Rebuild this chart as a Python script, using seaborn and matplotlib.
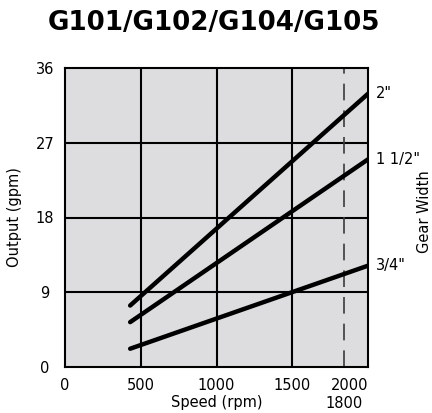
import numpy as np
import pandas as pd
import matplotlib
matplotlib.use('Agg')
import matplotlib.pyplot as plt
import seaborn as sns

# values
speed = [430, 2000]
out_2in = [7.4, 32.9]
out_1_5in = [5.4, 25.0]
out_3_4in = [2.2, 12.2]
gear_widths = ['2"', '1 1/2"', '3/4"']
x_ticks = [0, 500, 1000, 1500, 2000]
y_ticks = [0, 9, 18, 27, 36]
motor_speed_label = '1800'
motor_line_x = 1840  # where the dashed line sits in the picture

df = pd.DataFrame({
    'speed': speed * 3,
    'output': out_2in + out_1_5in + out_3_4in,
    'width': [gear_widths[0]] * 2 + [gear_widths[1]] * 2 + [gear_widths[2]] * 2,
})

sns.set_theme(style='white')
plt.rcParams['font.family'] = ['DejaVu Sans']
plt.rcParams['text.color'] = 'black'
plt.rcParams['axes.labelcolor'] = 'black'
plt.rcParams['xtick.color'] = 'black'
plt.rcParams['ytick.color'] = 'black'

fig = plt.figure(figsize=(4.32, 4.13), dpi=100)
ax = fig.add_axes([65 / 432, 1 - 367 / 413, 303 / 432, 299 / 413])
ax.set_facecolor('#dddddf')

sns.lineplot(data=df, x='speed', y='output', units='width', estimator=None,
             color='black', lw=3.2, legend=False, ax=ax)

for v in x_ticks[1:-1]:
    ax.axvline(v, color='black', lw=1.5, zorder=1)
for v in y_ticks[1:-1]:
    ax.axhline(v, color='black', lw=1.5, zorder=1)
ax.axvline(motor_line_x, color='#3a3a3a', lw=1.2, dashes=(10, 6), zorder=1)

ax.set_xlim(0, 2000)
ax.set_ylim(0, 36)
ax.set_xticks(x_ticks)
ax.set_yticks(y_ticks)
ax.set_xticklabels([str(t) for t in x_ticks], fontsize=10.5)
ax.set_yticklabels([str(t) for t in y_ticks], fontsize=10.5, ha='center')
ax.get_xticklabels()[-1].set_horizontalalignment('right')
ax.tick_params(axis='x', length=0, pad=8)
ax.tick_params(axis='y', length=0, pad=14.5)
for s in ax.spines.values():
    s.set_color('black')
    s.set_linewidth(1.5)

ax.set_xlabel('Speed (rpm)', fontsize=10.5)
ax.set_ylabel('Output (gpm)', fontsize=10.5)
ax.xaxis.set_label_coords(0.5, -(403 - 367) / 299, transform=ax.transAxes)
ax.yaxis.set_label_coords(-(65 - 15) / 303, 0.5, transform=ax.transAxes)
ax.xaxis.label.set_va('center')
ax.yaxis.label.set_va('center')

for w, vals in zip(gear_widths, [out_2in, out_1_5in, out_3_4in]):
    ax.text(speed[-1] + 50, vals[-1], w, fontsize=10.5, va='center', ha='left',
            clip_on=False)

ax.text(motor_line_x, -(403 - 367) / 299, motor_speed_label,
        transform=ax.get_xaxis_transform(), fontsize=10.5, ha='center', va='center')
fig.text(424.5 / 432, 1 - 212 / 413, 'Gear Width', rotation=90, fontsize=10.5,
         ha='center', va='center')

fig.text(214 / 432, 1 - 22.7 / 413, 'G101/G102/G104/G105', fontsize=18.8,
         fontweight='bold', ha='center', va='center')

fig.savefig('out.png', dpi=100)
